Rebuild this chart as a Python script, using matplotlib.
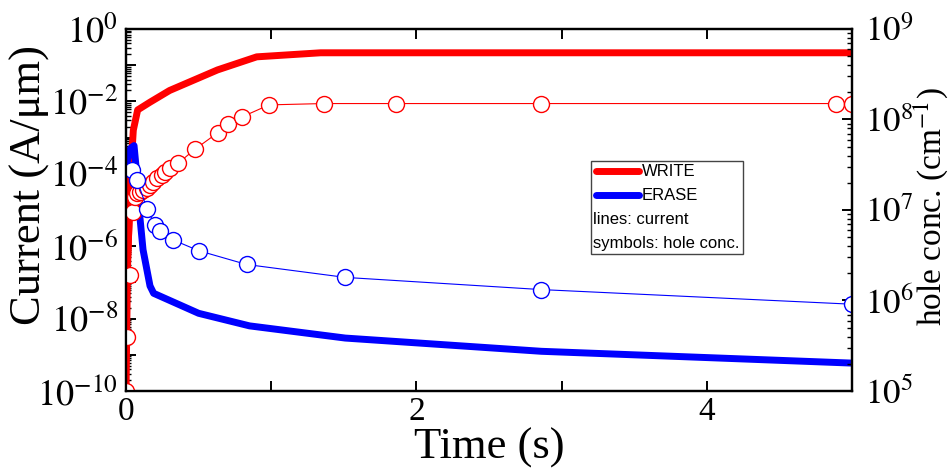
#!/usr/bin/env python3
"""Transient current and hole concentration during WRITE / ERASE."""

import matplotlib
matplotlib.use("Agg")
import matplotlib.pyplot as plt
from matplotlib.lines import Line2D
from matplotlib.ticker import FixedLocator, LogLocator, NullFormatter
from matplotlib.offsetbox import AnchoredOffsetbox, VPacker, HPacker, TextArea, DrawingArea
import numpy as np

# current (lines, left axis)
write_t = [0, 0.01, 0.03, 0.05, 0.08, 0.165, 0.30, 0.63, 0.90, 1.34, 5.0]
write_i = [1e-10, 2.5e-7, 8e-5, 1.6e-3, 5.8e-3, 9.5e-3, 2.0e-2, 7.4e-2, 0.17, 0.22, 0.22]
erase_t = [0, 0.03, 0.055, 0.083, 0.096, 0.117, 0.165, 0.19, 0.5, 0.85, 1.51, 2.86, 5.0]
erase_i = [1.6e-4, 5e-4, 6e-4, 4e-5, 6e-6, 8e-7, 8e-8, 5e-8, 1.4e-8, 6.3e-9, 2.9e-9,
           1.25e-9, 5.9e-10]

# hole concentration (symbols, right axis)
write_hole_t = [0.002, 0.01, 0.025, 0.045, 0.06, 0.076, 0.096, 0.117, 0.145, 0.165,
                0.186, 0.21, 0.25, 0.27, 0.30, 0.36, 0.475, 0.63, 0.70, 0.80, 0.985,
                1.36, 1.86, 2.86, 4.89, 5.0]
write_hole = [1.0e5, 4.0e5, 1.9e6, 9.5e6, 1.38e7, 1.55e7, 1.58e7, 1.66e7, 1.74e7, 1.9e7,
              2.04e7, 2.24e7, 2.45e7, 2.63e7, 2.88e7, 3.3e7, 4.7e7, 7.1e7, 8.9e7, 1.07e8,
              1.45e8, 1.5e8, 1.5e8, 1.5e8, 1.5e8, 1.5e8]
erase_hole_t = [0.04, 0.076, 0.145, 0.20, 0.235, 0.32, 0.50, 0.83, 1.51, 2.86, 5.0]
erase_hole = [2.75e7, 2.14e7, 1.02e7, 6.8e6, 5.9e6, 4.7e6, 3.55e6, 2.5e6, 1.8e6, 1.32e6, 9.1e5]

x_ticks = [0, 1, 2, 3, 4, 5]
x_labels = ['0', '', '2', '', '4', '']

RED = '#ff0000'
BLUE = '#0000ff'

plt.rcParams['font.family'] = ['Liberation Serif', 'DejaVu Serif']
plt.rcParams['mathtext.fontset'] = 'stix'

fig = plt.figure(figsize=(9.52, 4.72), dpi=100)
ax = fig.add_axes([0.1324, 0.1716, 0.7626, 0.767])
ax2 = ax.twinx()

ax.plot(write_t, write_i, color=RED, lw=5, solid_capstyle='round', solid_joinstyle='round')
ax.plot(erase_t, erase_i, color=BLUE, lw=5, solid_capstyle='round', solid_joinstyle='round')

ax2.plot(write_hole_t, write_hole, color=RED, lw=0.8, marker='o', ms=11.5,
         mfc='white', mec=RED, mew=1.0)
ax2.plot(erase_hole_t, erase_hole, color=BLUE, lw=0.8, marker='o', ms=11.5,
         mfc='white', mec=BLUE, mew=1.0)

# left axis
ax.set_xlim(0, 5)
ax.set_yscale('log')
ax.set_ylim(1e-10, 1)
dec = np.arange(-10, 1)
ax.yaxis.set_major_locator(FixedLocator(10.0 ** dec))
ax.set_yticklabels(['$10^{%d}$' % d if d % 2 == 0 else '' for d in dec])
ax.yaxis.set_minor_locator(LogLocator(base=10, subs=np.arange(2, 10), numticks=30))
ax.yaxis.set_minor_formatter(NullFormatter())
ax.set_xticks(x_ticks)
ax.set_xticklabels(x_labels)

# right axis
ax2.set_yscale('log')
ax2.set_ylim(1e5, 1e9)
dec2 = np.arange(5, 10)
ax2.yaxis.set_major_locator(FixedLocator(10.0 ** dec2))
ax2.set_yticklabels(['$10^{%d}$' % d for d in dec2])
ax2.yaxis.set_minor_locator(LogLocator(base=10, subs=np.arange(2, 10), numticks=30))
ax2.yaxis.set_minor_formatter(NullFormatter())

for a in (ax, ax2):
    for s in a.spines.values():
        s.set_linewidth(1.6)
ax.tick_params(which='major', direction='in', length=7, width=1.4, labelsize=26, top=True,
               pad=6)
ax.tick_params(axis='x', which='major', labelsize=24, pad=4)
ax.tick_params(which='minor', direction='in', length=3.5, width=1.0)
ax2.tick_params(which='major', direction='in', length=7, width=1.4, labelsize=25, pad=9)
ax2.tick_params(which='minor', direction='in', length=3.5, width=1.0)

ax.set_xlabel('Time (s)', fontsize=32)
ax.xaxis.set_label_coords(0.5, -0.1)
ax.set_ylabel('Current (A/\u03bcm)', fontsize=32)
ax.yaxis.set_label_coords(-0.105, 0.57)
ax2.set_ylabel('hole conc. (cm$^{-1}$)', fontsize=24)
ax2.yaxis.set_label_coords(1.082, 0.51)

# legend box: two line entries + two plain text rows
fs = 12
sans = ['Liberation Sans', 'DejaVu Sans']


def line_entry(color, label):
    da = DrawingArea(34, 10, 0, 0)
    da.add_artist(Line2D([2, 33], [5, 5], color=color, lw=5, solid_capstyle='round'))
    txt = TextArea(label, textprops=dict(size=fs, family=sans))
    return HPacker(children=[da, txt], align='center', pad=0, sep=1)


rows = [line_entry(RED, 'WRITE'), line_entry(BLUE, 'ERASE'),
        TextArea('lines: current', textprops=dict(size=fs, family=sans)),
        TextArea('symbols: hole conc.', textprops=dict(size=fs, family=sans))]
box = VPacker(children=rows, align='left', pad=0, sep=6.5)
leg = AnchoredOffsetbox(loc='upper left', child=box, pad=0.2, borderpad=0,
                        bbox_to_anchor=(0.640, 0.635), bbox_transform=ax.transAxes,
                        frameon=True)
leg.patch.set_edgecolor('#444444')
leg.patch.set_linewidth(1.0)
ax2.add_artist(leg)

plt.savefig('out.png', dpi=100)
